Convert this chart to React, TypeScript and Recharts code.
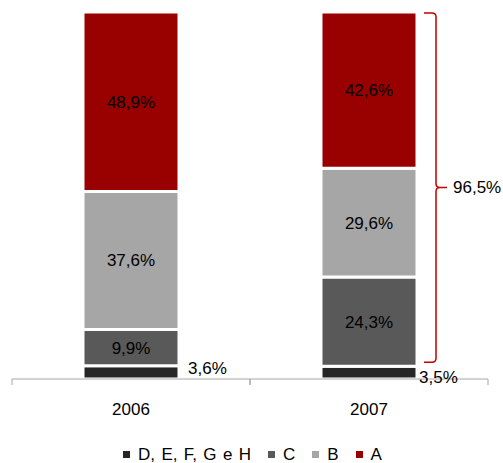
import { BarChart, Bar, XAxis, YAxis, Legend, LabelList, ReferenceArea } from "recharts";

const years = ["2006", "2007"];
const seriesDEFGH = [3.6, 3.5];
const seriesC = [9.9, 24.3];
const seriesB = [37.6, 29.6];
const seriesA = [48.9, 42.6];
const seriesNames = ["D, E, F, G e H", "C", "B", "A"];

const data = years.map((year, i) => ({
  year,
  d: seriesDEFGH[i],
  c: seriesC[i],
  b: seriesB[i],
  a: seriesA[i],
}));

const FONT = "'Liberation Sans', Arial, sans-serif";
const BAR_SIZE = 96;
const TICK_SIZE = 6;
const TICK_MARGIN = 18;
const fmt = (v: number) => v.toFixed(1).replace(".", ",") + "%";

// label offsets for the thin bottom segment (outside, to the right)
const dLabelDx = [9, 2];
const dLabelDy = [-4, 5];

const bracketTotal = seriesA[1] + seriesB[1] + seriesC[1];

function DLabel(props: any) {
  const { x, y, width, height, value, index } = props;
  return (
    <text
      x={x + width + dLabelDx[index]}
      y={y + height / 2 + dLabelDy[index]}
      dominantBaseline="central"
      fontSize={17}
      fontFamily={FONT}
      fill="#000"
    >
      {fmt(value)}
    </text>
  );
}

// category label plus tick marks on the band edges (not the centre)
function YearTick(props: any) {
  const { x, y, payload } = props;
  const half = payload.offset || 0;
  const axisY = y - TICK_SIZE - TICK_MARGIN;
  return (
    <g>
      <line x1={x - half} x2={x - half} y1={axisY} y2={axisY + TICK_SIZE} stroke="#a6a6a6" />
      <line x1={x + half} x2={x + half} y1={axisY} y2={axisY + TICK_SIZE} stroke="#a6a6a6" />
      <text x={x} y={y} dy="0.71em" textAnchor="middle" fontSize={17} fontFamily={FONT} fill="#000">
        {payload.value}
      </text>
    </g>
  );
}

function Bracket(props: any) {
  const { x, y, width, height } = props;
  const bx = x + width / 2 + BAR_SIZE / 2 + 19;
  const yT = y + 1;
  const yB = y + height - 4;
  const mid = (yT + yB) / 2;
  const d = [
    `M ${bx - 12} ${yT} L ${bx - 4} ${yT} Q ${bx} ${yT} ${bx} ${yT + 4}`,
    `L ${bx} ${mid - 4} Q ${bx} ${mid} ${bx + 4} ${mid} L ${bx + 11} ${mid}`,
    `M ${bx + 4} ${mid} Q ${bx} ${mid} ${bx} ${mid + 4}`,
    `L ${bx} ${yB - 4} Q ${bx} ${yB} ${bx - 4} ${yB} L ${bx - 12} ${yB}`,
  ].join(" ");
  return (
    <g>
      <path d={d} stroke="#c00000" strokeWidth={1.5} fill="none" />
      <text
        x={bx + 17}
        y={mid}
        dominantBaseline="central"
        fontSize={17}
        fontFamily={FONT}
        fill="#000"
      >
        {fmt(bracketTotal)}
      </text>
    </g>
  );
}

function LegendContent(props: any) {
  const items = [...(props.payload || [])].sort(
    (a: any, b: any) => seriesNames.indexOf(a.value) - seriesNames.indexOf(b.value)
  );
  return (
    <div
      style={{
        display: "flex",
        justifyContent: "center",
        alignItems: "center",
        height: 17,
        fontSize: 17,
        lineHeight: "17px",
        wordSpacing: 1.6,
        fontFamily: FONT,
        color: "#000",
        paddingLeft: 5,
      }}
    >
      {items.map((e: any, i: number) => (
        <span
          key={e.value}
          style={{ display: "flex", alignItems: "center", marginRight: i < items.length - 1 ? 17 : 0 }}
        >
          <span style={{ width: 7, height: 7, background: e.color, marginRight: 8, display: "inline-block" }} />
          {e.value}
        </span>
      ))}
    </div>
  );
}

const insideLabel = {
  position: "center" as const,
  fontSize: 17,
  fontFamily: FONT,
  fill: "#000",
  formatter: (v: any) => fmt(Number(v)),
};

export default function App() {
  return (
    <div style={{ position: "absolute", left: 0, top: 0 }}>
      <BarChart
        width={503}
        height={463}
        data={data}
        margin={{ top: 12, right: 15, left: 12, bottom: 0 }}
        barCategoryGap={0}
      >
        <XAxis
          dataKey="year"
          height={67}
          axisLine={{ stroke: "#a6a6a6" }}
          tickLine={false}
          tickSize={TICK_SIZE}
          tickMargin={TICK_MARGIN}
          tick={<YearTick />}
        />
        <YAxis hide domain={[0, 100]} />
        <Legend verticalAlign="bottom" content={<LegendContent />} />
        <Bar dataKey="d" name={seriesNames[0]} stackId="s" fill="#262626" stroke="#fff" strokeWidth={3} barSize={BAR_SIZE} isAnimationActive={false}>
          <LabelList dataKey="d" content={<DLabel />} />
        </Bar>
        <Bar dataKey="c" name={seriesNames[1]} stackId="s" fill="#595959" stroke="#fff" strokeWidth={3} barSize={BAR_SIZE} isAnimationActive={false}>
          <LabelList dataKey="c" {...insideLabel} />
        </Bar>
        <Bar dataKey="b" name={seriesNames[2]} stackId="s" fill="#a6a6a6" stroke="#fff" strokeWidth={3} barSize={BAR_SIZE} isAnimationActive={false}>
          <LabelList dataKey="b" {...insideLabel} />
        </Bar>
        <Bar dataKey="a" name={seriesNames[3]} stackId="s" fill="#990000" stroke="#fff" strokeWidth={3} barSize={BAR_SIZE} isAnimationActive={false}>
          <LabelList dataKey="a" {...insideLabel} />
        </Bar>
        <ReferenceArea
          x1="2007"
          x2="2007"
          y1={seriesDEFGH[1]}
          y2={100}
          ifOverflow="visible"
          shape={(p: any) => <Bracket {...p} />}
        />
      </BarChart>
    </div>
  );
}
